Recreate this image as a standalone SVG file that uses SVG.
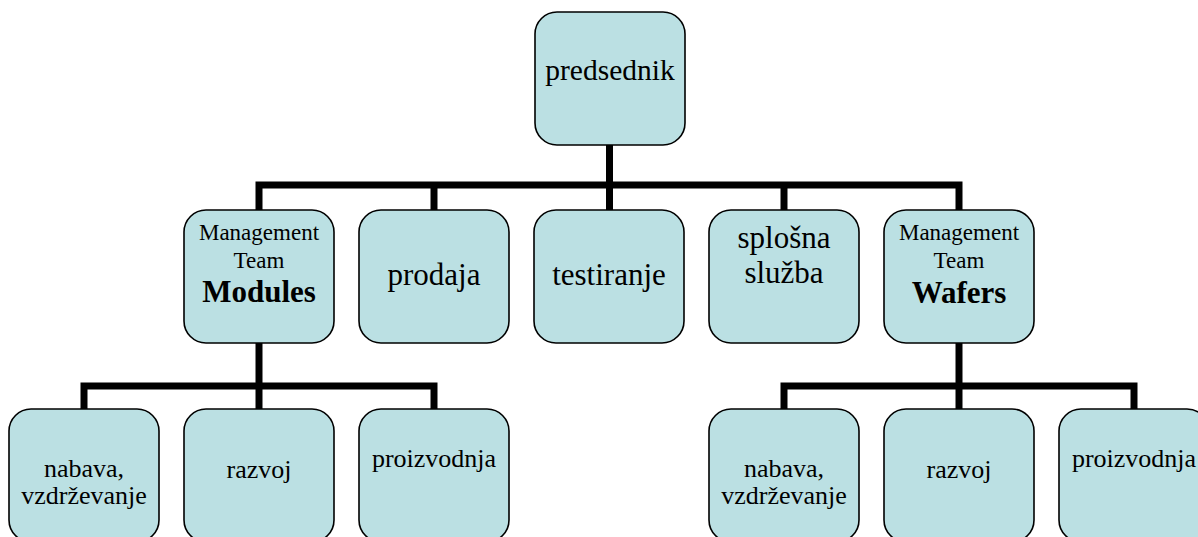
<svg xmlns="http://www.w3.org/2000/svg" width="1198" height="537" viewBox="0 0 1198 537">
<style>
.box{fill:#BBE0E3;stroke:#000;stroke-width:1.6}
.t{font-family:"Liberation Serif","Times New Roman",Times,"DejaVu Serif",serif;fill:#000;text-anchor:middle}
.big{font-size:31px}
.mid{font-size:26px}
.sm{font-size:23px}
.bold{font-size:31px;font-weight:bold}
.conn{fill:none;stroke:#000;stroke-width:7;stroke-linejoin:miter}
</style>
<rect width="1198" height="537" fill="#fff"/>
<g id="connectors">
<path class="conn" d="M609.5 145 V185"/>
<path class="conn" d="M259 210 V185 H959 V210"/>
<path class="conn" d="M434 210 V185"/>
<path class="conn" d="M609.5 210 V185"/>
<path class="conn" d="M784 210 V185"/>
<path class="conn" d="M259 343 V386"/>
<path class="conn" d="M84 409 V386 H434 V409"/>
<path class="conn" d="M259 409 V386"/>
<path class="conn" d="M959 343 V386"/>
<path class="conn" d="M784 409 V386 H1134 V409"/>
<path class="conn" d="M959 409 V386"/>
</g>
<g id="predsednik">
<rect class="box" x="535" y="12" width="150" height="133" rx="22"/>
<text class="t" x="610" y="80" font-size="29.5">predsednik</text>
</g>
<g id="modules">
<rect class="box" x="184" y="210" width="150" height="133" rx="22"/>
<text class="t sm" x="259" y="240">Management</text>
<text class="t sm" x="259" y="268">Team</text>
<text class="t bold" x="259" y="302">Modules</text>
</g>
<g id="prodaja">
<rect class="box" x="359" y="210" width="150" height="133" rx="22"/>
<text class="t big" x="434" y="285">prodaja</text>
</g>
<g id="testiranje">
<rect class="box" x="534" y="210" width="150" height="133" rx="22"/>
<text class="t big" x="609" y="285">testiranje</text>
</g>
<g id="splosna">
<rect class="box" x="709" y="210" width="150" height="133" rx="22"/>
<text class="t big" x="784" y="248">splošna</text>
<text class="t big" x="784" y="283">služba</text>
</g>
<g id="wafers">
<rect class="box" x="884" y="210" width="150" height="133" rx="22"/>
<text class="t sm" x="959" y="240">Management</text>
<text class="t sm" x="959" y="268">Team</text>
<text class="t bold" x="959" y="303">Wafers</text>
</g>
<g id="m-nabava">
<rect class="box" x="9" y="409" width="150" height="133" rx="22"/>
<text class="t mid" x="84" y="477">nabava,</text>
<text class="t mid" x="84" y="504">vzdrževanje</text>
</g>
<g id="m-razvoj">
<rect class="box" x="184" y="409" width="150" height="133" rx="22"/>
<text class="t mid" x="259" y="478">razvoj</text>
</g>
<g id="m-proizvodnja">
<rect class="box" x="359" y="409" width="150" height="133" rx="22"/>
<text class="t mid" x="434" y="467">proizvodnja</text>
</g>
<g id="w-nabava">
<rect class="box" x="709" y="409" width="150" height="133" rx="22"/>
<text class="t mid" x="784" y="477">nabava,</text>
<text class="t mid" x="784" y="504">vzdrževanje</text>
</g>
<g id="w-razvoj">
<rect class="box" x="884" y="409" width="150" height="133" rx="22"/>
<text class="t mid" x="959" y="478">razvoj</text>
</g>
<g id="w-proizvodnja">
<rect class="box" x="1059" y="409" width="150" height="133" rx="22"/>
<text class="t mid" x="1134" y="467">proizvodnja</text>
</g>
</svg>
